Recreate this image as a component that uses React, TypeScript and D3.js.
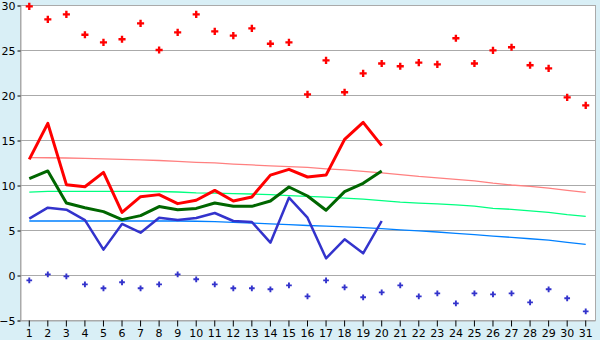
import * as d3 from 'd3';
import React, { useRef, useEffect } from 'react';

const days = d3.range(1, 32).map(String);

// daily extremes (diamonds)
const maxTemp = [29.85, 28.4, 28.96, 26.7, 25.85, 26.2, 27.96, 25.0, 26.96, 28.96,
  27.07, 26.6, 27.4, 25.7, 25.85, 20.07, 23.85, 20.3, 22.4, 23.5,
  23.2, 23.6, 23.4, 26.3, 23.5, 24.96, 25.3, 23.3, 22.96, 19.74, 18.85];
const minTemp = [-0.6, 0.07, -0.15, -1.04, -1.48, -0.81, -1.48, -1.04, 0.07, -0.48,
  -1.04, -1.48, -1.48, -1.59, -1.15, -2.37, -0.6, -1.37, -2.48, -1.93,
  -1.15, -2.37, -2.04, -3.15, -2.04, -2.15, -2.04, -3.04, -1.59, -2.59, -4.04];

// current month, days 1-20
const curMax = [12.85, 16.85, 10.04, 9.8, 11.4, 6.96, 8.7, 8.93, 7.93, 8.3,
  9.4, 8.22, 8.67, 11.1, 11.74, 10.89, 11.1, 15.07, 16.96, 14.37];
const curMean = [10.7, 11.56, 8.0, 7.48, 7.04, 6.15, 6.6, 7.6, 7.26, 7.4,
  8.0, 7.63, 7.63, 8.22, 9.78, 8.78, 7.19, 9.26, 10.19, 11.56];
const curMin = [6.26, 7.48, 7.26, 6.1, 2.82, 5.67, 4.7, 6.37, 6.1, 6.33,
  6.89, 6.0, 5.89, 3.59, 8.59, 6.37, 1.85, 3.96, 2.41, 6.0];

// normals
const normMax = [13.05, 13.03, 13.0, 12.95, 12.9, 12.85, 12.8, 12.72, 12.62, 12.52,
  12.45, 12.33, 12.23, 12.13, 12.05, 11.95, 11.8, 11.68, 11.52, 11.35,
  11.15, 10.95, 10.8, 10.63, 10.45, 10.2, 10.0, 9.85, 9.65, 9.41, 9.19];
const normMean = [9.2, 9.3, 9.3, 9.3, 9.3, 9.3, 9.3, 9.28, 9.22, 9.12,
  9.1, 9.05, 9.0, 8.93, 8.83, 8.74, 8.65, 8.55, 8.42, 8.27,
  8.1, 7.98, 7.9, 7.8, 7.65, 7.4, 7.3, 7.12, 6.95, 6.7, 6.52];
const normMin = [6.0, 6.0, 6.0, 6.0, 6.0, 6.0, 6.0, 6.0, 6.0, 5.97,
  5.92, 5.85, 5.77, 5.68, 5.6, 5.5, 5.42, 5.35, 5.26, 5.15,
  5.02, 4.9, 4.78, 4.62, 4.48, 4.33, 4.18, 4.03, 3.88, 3.62, 3.4];

const yTicks = [-5, 0, 5, 10, 15, 20, 25, 30];

const App = () => {
  const ref = useRef<SVGSVGElement>(null);
  const width = 600, height = 340;
  const margin = { top: 5, right: 5, bottom: 20, left: 20 };

  useEffect(() => {
    const svg = d3.select(ref.current);
    svg.selectAll('*').remove();

    const x = d3.scaleBand().domain(days).range([margin.left, width - margin.right]);
    const y = d3.scaleLinear().domain([-5, 30]).range([height - margin.bottom, margin.top]);
    const cx = (i: number) => (x(days[i]) as number) + x.bandwidth() / 2;

    svg.append('rect').attr('width', width).attr('height', height).attr('fill', '#d9eff6');
    svg.append('rect')
      .attr('x', margin.left + 0.5).attr('y', margin.top + 0.5)
      .attr('width', width - margin.left - margin.right)
      .attr('height', height - margin.top - margin.bottom)
      .attr('fill', '#fff')
      .attr('stroke', '#aaa');

    // grid lines
    svg.append('g').selectAll('line').data(yTicks).join('line')
      .attr('x1', margin.left).attr('x2', width - margin.right)
      .attr('y1', (d) => Math.round(y(d)) + 0.5).attr('y2', (d) => Math.round(y(d)) + 0.5)
      .attr('stroke', '#aaa');

    // y axis
    const ya = svg.append('g')
      .attr('transform', 'translate(' + (margin.left + 0.5) + ',0.5)')
      .call(d3.axisLeft(y).tickValues(yTicks).tickSize(3).tickPadding(2));
    ya.select('.domain').attr('stroke', '#aaa');
    ya.selectAll('line').attr('stroke', '#000');
    ya.selectAll('text').attr('font-family', 'DejaVu Sans').attr('font-size', 11).attr('fill', '#000');

    // x axis
    const xa = svg.append('g')
      .attr('transform', 'translate(0,' + (height - margin.bottom + 0.5) + ')')
      .call(d3.axisBottom(x).tickSize(6).tickPadding(3).tickSizeOuter(0));
    xa.select('.domain').attr('stroke', '#aaa');
    xa.selectAll('line').attr('stroke', '#000');
    xa.selectAll('text').attr('font-family', 'DejaVu Sans').attr('font-size', 11).attr('fill', '#000');

    const line = d3.line<number>().x((_, i) => cx(i)).y((d) => y(d));
    const addLine = (data: number[], color: string, w: number) =>
      svg.append('path').datum(data)
        .attr('fill', 'none').attr('stroke', color).attr('stroke-width', w)
        .attr('stroke-linejoin', 'round')
        .attr('d', line);

    // normals
    addLine(normMax, '#ff8080', 1.3);
    addLine(normMean, '#00ff80', 1.3);
    addLine(normMin, '#0080ff', 1.3);

    // this month
    addLine(curMax, '#ff0000', 3);
    addLine(curMean, '#006600', 3);
    addLine(curMin, '#3333cc', 2.5);

    // extremes
    svg.append('g').selectAll('path').data(maxTemp).join('path')
      .attr('transform', (d, i) => 'translate(' + cx(i) + ',' + y(d) + ')')
      .attr('d', d3.symbol().type(d3.symbolCross).size(28)())
      .attr('fill', '#ff0000');
    svg.append('g').selectAll('path').data(minTemp).join('path')
      .attr('transform', (d, i) => 'translate(' + cx(i) + ',' + y(d) + ')')
      .attr('d', d3.symbol().type(d3.symbolCross).size(18)())
      .attr('fill', '#3333cc');
  }, []);

  return (
    <svg ref={ref} width={width} height={height}
      style={{ position: 'absolute', left: 0, top: 0 }} />
  );
};

export default App;
